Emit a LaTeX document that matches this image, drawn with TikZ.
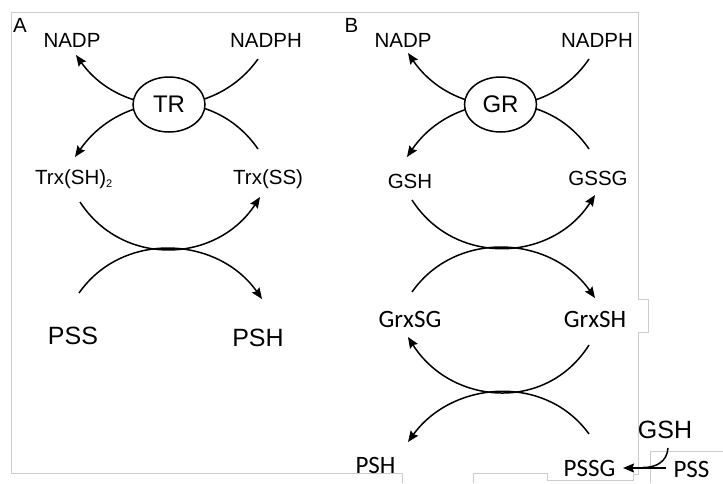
\documentclass[tikz,border=0pt]{standalone}
\usepackage{fontspec}
\setmainfont{Liberation Sans}
\newfontfamily\carl{Carlito}
\usetikzlibrary{arrows.meta,shapes.geometric}
\begin{document}
\begin{tikzpicture}[x=1pt,y=-1pt,
  arc/.style={line width=1.5pt,black},
  arr/.style={arc,-{Stealth[length=11pt,width=9pt,inset=1.5pt]}},
  frame/.style={line width=0.9pt,draw=black!20},
  lab/.style={font=\fontsize{20.5}{22}\selectfont,inner sep=0pt,anchor=base},
  big/.style={font=\fontsize{25}{27}\selectfont,inner sep=0pt,anchor=base},
  cbig/.style={font=\carl\fontsize{25}{27}\selectfont,inner sep=0pt,anchor=base},
  enz/.style={ellipse,draw,line width=1.5pt,fill=white,minimum width=72pt,minimum height=55pt,inner sep=0pt,font=\fontsize{24}{26}\selectfont}]
\useasboundingbox (0,0) rectangle (723,483);
% gray frames
\draw[frame] (11,473) -- (11,12) -- (638,12) -- (638,299) -- (648,299) -- (648,332) -- (638,332) -- (638,474) -- (633,474) -- (633,480) -- (547,480) -- (547,473) -- (473,473) -- (473,483);
\draw[frame] (11,473) -- (402,473) -- (402,483);
\draw[frame] (650,483) -- (650,451) -- (723,451);
% panel labels
\node[lab] (labA) at (20,32) {A};
\node[lab] (labB) at (351.5,32) {B};
% ---------- Panel A ----------
\node[lab] (aNADP) at (72,47) {NADP};
\node[lab] (aNADPH) at (266,47) {NADPH};
\node[lab,anchor=base west] (aSH2) at (35,184) {Trx(SH)\raisebox{-3pt}{\fontsize{11}{12}\selectfont 2}};
\node[lab,anchor=base west] (aSS) at (233,184) {Trx(SS)};
\node[big] (aPSS) at (73,344) {PSS};
\node[big] (aPSH) at (258,346) {PSH};
\coordinate (aU1s) at (258,59);
\coordinate (aU1e) at (76,55);
\coordinate (aN1s) at (258,149);
\coordinate (aN1e) at (75,157);
\coordinate (aU2s) at (80,202);
\coordinate (aU2e) at (260,197);
\coordinate (aN2s) at (79,293);
\coordinate (aN2e) at (262,299);
\draw[arr] (aU1s) .. controls +(-44.6,62.7) and +(44.6,62.7) .. (aU1e);
\draw[arr] (aN1s) .. controls +(-45,-65.3) and +(45,-65.3) .. (aN1e);
\draw[arr] (aU2s) .. controls +(43,66) and +(-43,66) .. (aU2e);
\draw[arr] (aN2s) .. controls +(44,-62.7) and +(-44,-62.7) .. (aN2e);
\node[enz] (TR) at (169,104.5) {TR};
% ---------- Panel B ----------
\node[lab] (bNADP) at (403,47) {NADP};
\node[lab] (bNADPH) at (597,47) {NADPH};
\node[lab] (bGSH) at (410,188) {GSH};
\node[lab] (bGSSG) at (598,185) {GSSG};
\node[cbig] (bGrxSG) at (410,327) {GrxSG};
\node[cbig] (bGrxSH) at (595,327) {GrxSH};
\node[cbig] (bPSH) at (375.5,473) {PSH};
\node[cbig] (bPSSG) at (589.5,476.5) {PSSG};
\node[big] (bGSH2) at (665,438) {GSH};
\node[cbig] (bPSS) at (691.5,477) {PSS};
\coordinate (bU1s) at (589,59);
\coordinate (bU1e) at (408,53);
\coordinate (bN1s) at (589,149);
\coordinate (bN1e) at (407,157);
\coordinate (bU2s) at (412,200);
\coordinate (bU2e) at (595,195);
\coordinate (bN2s) at (412,292);
\coordinate (bN2e) at (595,298);
\coordinate (bU3s) at (589,345);
\coordinate (bU3e) at (408,337);
\coordinate (bN3s) at (589,434);
\coordinate (bN3e) at (408,442);
\draw[arr] (bU1s) .. controls +(-44,64.7) and +(44,64.7) .. (bU1e);
\draw[arr] (bN1s) .. controls +(-44,-64.7) and +(44,-64.7) .. (bN1e);
\draw[arr] (bU2s) .. controls +(43,67) and +(-43,67) .. (bU2e);
\draw[arr] (bN2s) .. controls +(44,-62.7) and +(-44,-62.7) .. (bN2e);
\draw[arr] (bU3s) .. controls +(-43,68) and +(43,68) .. (bU3e);
\draw[arr] (bN3s) .. controls +(-44,-61) and +(44,-61) .. (bN3e);
\node[enz] (GR) at (500.5,104.5) {GR};
% small reaction
\coordinate (pssL) at (666,468);
\coordinate (pssgR) at (623,468);
\coordinate (gshB) at (668,448);
\coordinate (join) at (643,467.5);
\draw[arr] (pssL) -- (pssgR);
\draw[arc] (gshB) .. controls (667,462) and (656,467.5) .. (join);
\end{tikzpicture}
\end{document}
